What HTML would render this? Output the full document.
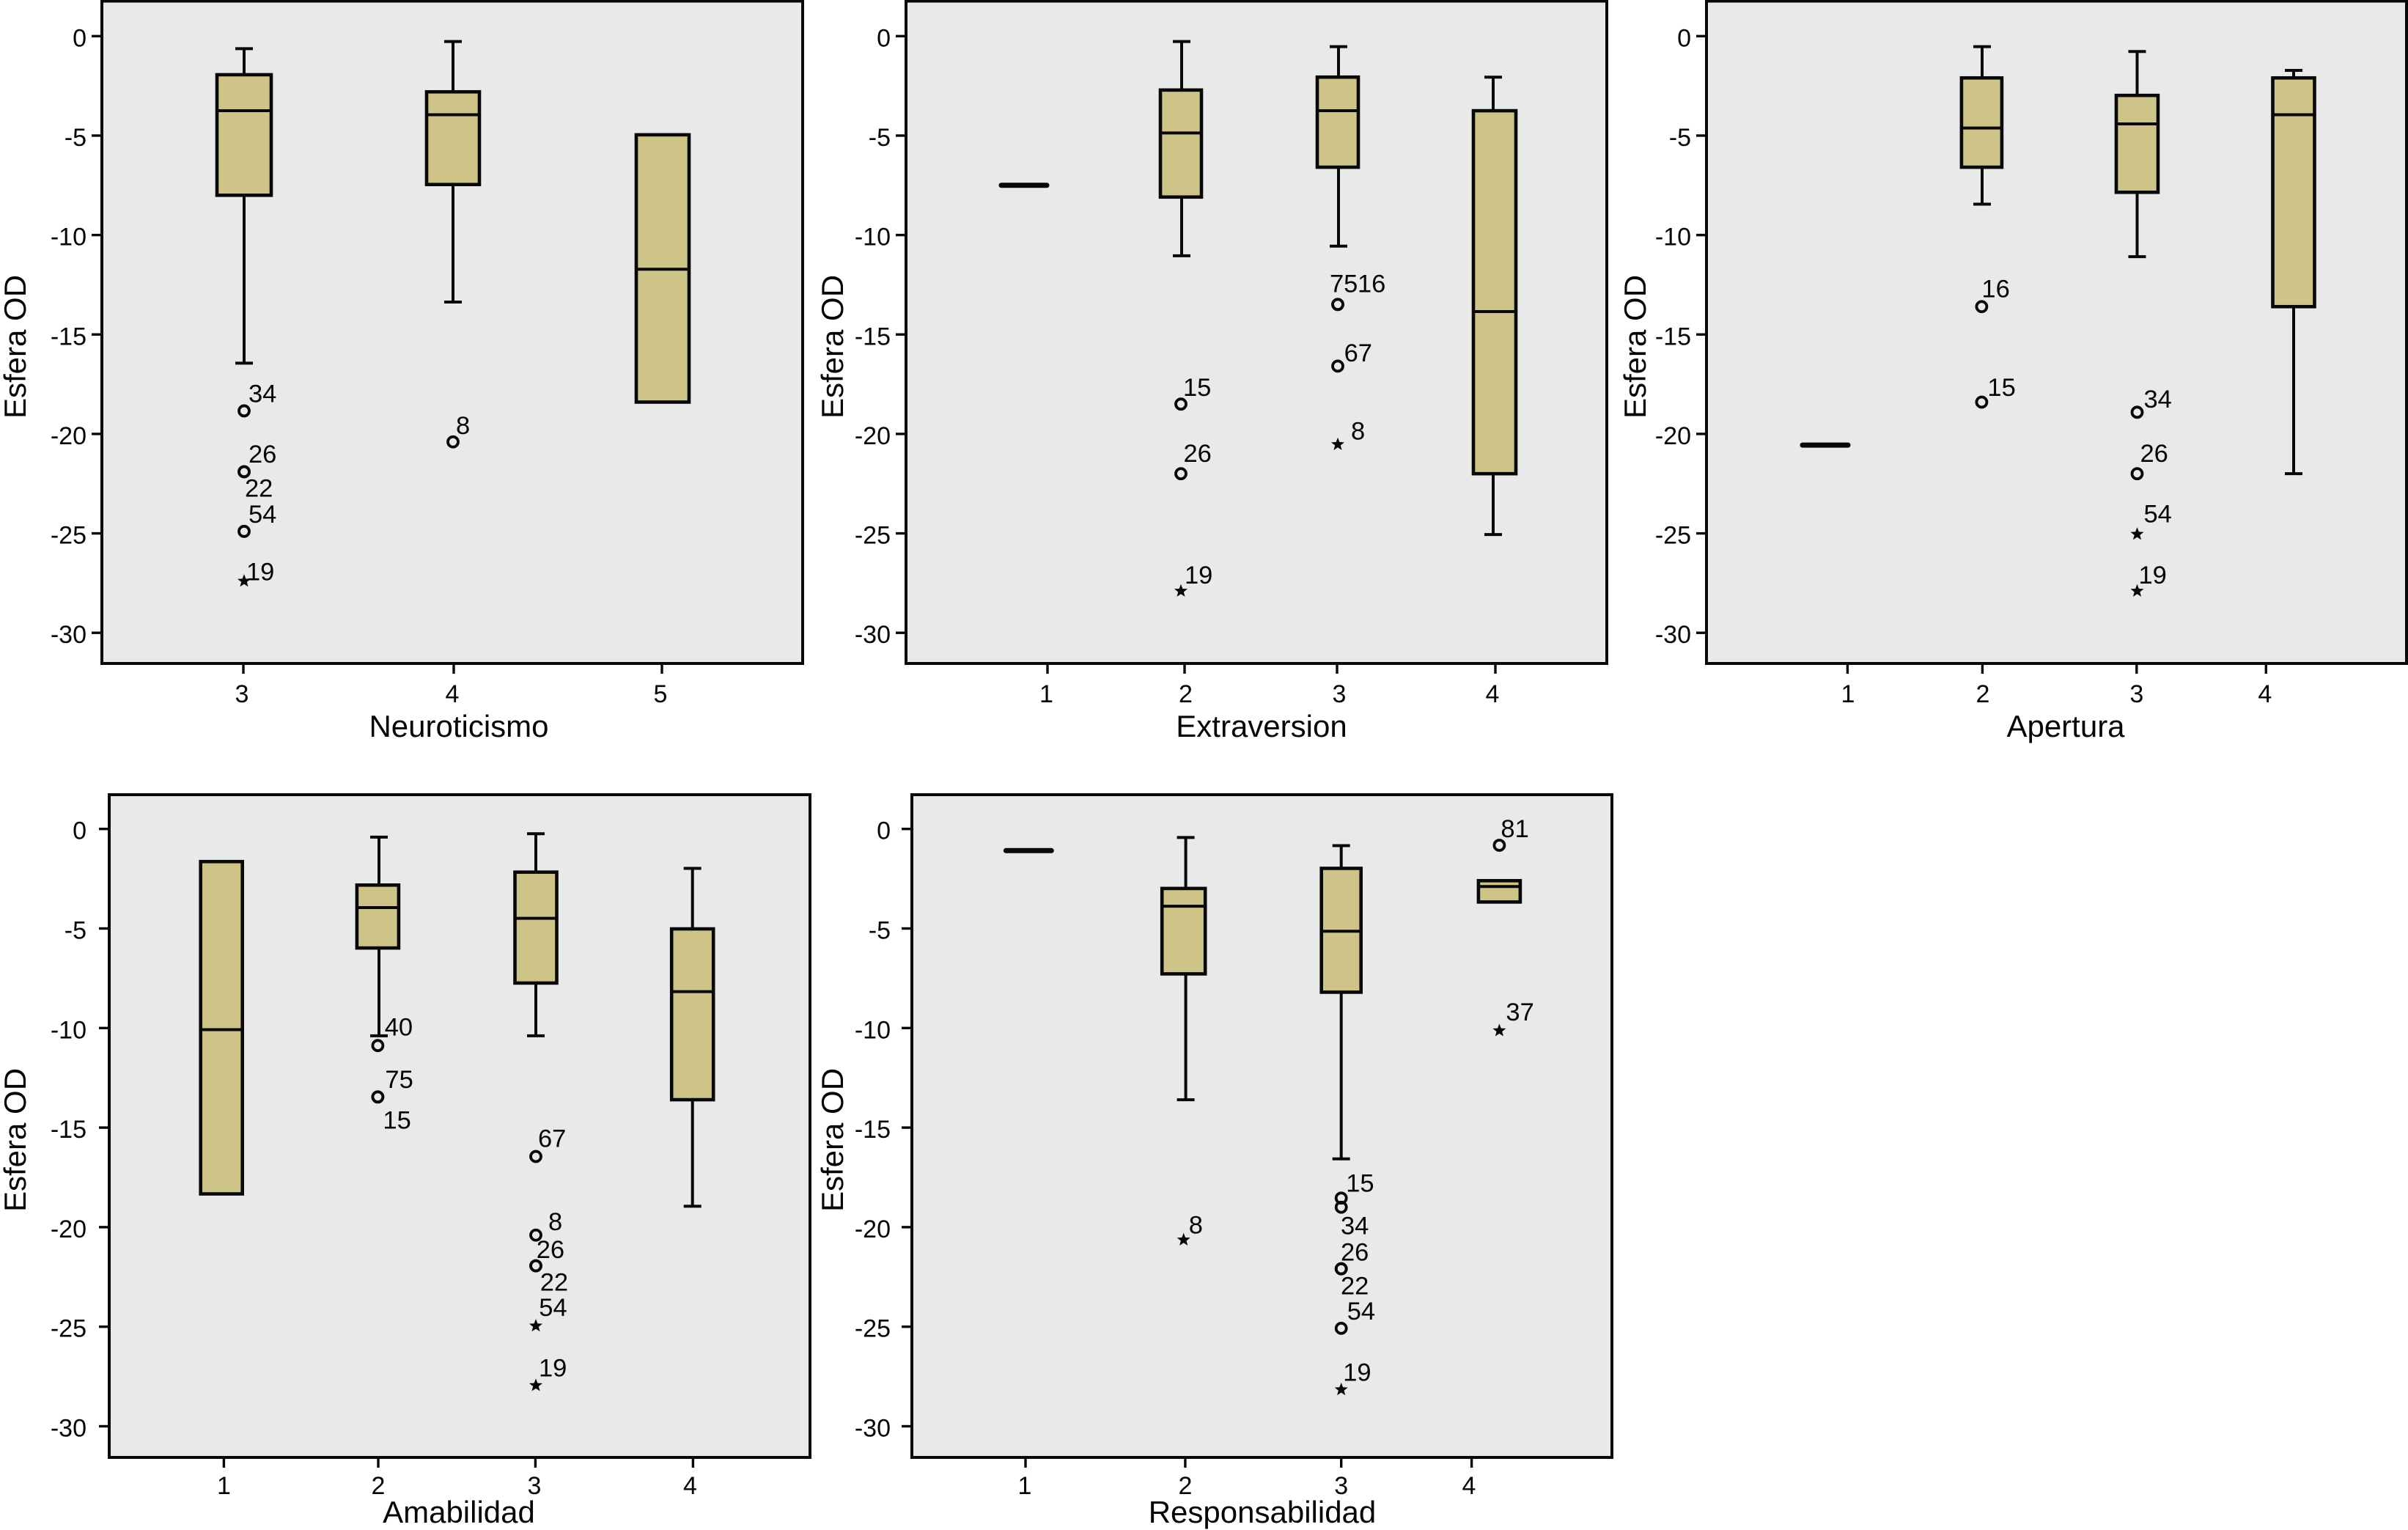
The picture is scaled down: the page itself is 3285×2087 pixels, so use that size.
<!DOCTYPE html>
<html lang="es">
<head>
<meta charset="utf-8">
<title>Esfera OD por rasgo de personalidad</title>
<style>
html,body{margin:0;padding:0;background:#fff;width:3285px;height:2087px;overflow:hidden}
svg{display:block}
text{font-family:"Liberation Sans",Arial,sans-serif;fill:#050505}
</style>
</head>
<body>
<svg id="chart" xmlns="http://www.w3.org/2000/svg" width="3285" height="2087" viewBox="0 0 3285 2087"></svg>
<script>
/* ---------- shared axis data ---------- */
const yTickValues = [0, -5, -10, -15, -20, -25, -30];
const yAxisTitle = 'Esfera OD';

/* ---------- Neuroticismo ---------- */
const neuroticismoCategories = ['3', '4', '5'];
const neuroticismoWhiskerHigh = [-0.63, -0.27, null];
const neuroticismoQ3 = [-1.94, -2.8, -4.96];
const neuroticismoMedian = [-3.75, -3.95, -11.72];
const neuroticismoQ1 = [-8.0, -7.46, -18.4];
const neuroticismoWhiskerLow = [-16.44, -13.37, null];
const neuroticismoOutlierCategory = [0, 0, 0, 0, 0, 1];
const neuroticismoOutlierValue = [-18.84, -21.9, -21.9, -24.9, -27.4, -20.4];
const neuroticismoOutlierLabel = ['34', '26', '22', '54', '19', '8'];
const neuroticismoOutlierKind = ['o', 'o', 'o', 'o', '*', 'o'];

/* ---------- Extraversion ---------- */
const extraversionCategories = ['1', '2', '3', '4'];
const extraversionWhiskerHigh = [null, -0.27, -0.53, -2.06];
const extraversionQ3 = [-7.5, -2.71, -2.06, -3.75];
const extraversionMedian = [-7.5, -4.87, -3.75, -13.85];
const extraversionQ1 = [-7.5, -8.09, -6.59, -22.0];
const extraversionWhiskerLow = [null, -11.04, -10.56, -25.06];
const extraversionOutlierCategory = [2, 2, 2, 2, 1, 1, 1];
const extraversionOutlierValue = [-13.49, -13.49, -16.59, -20.53, -18.5, -22.0, -27.9];
const extraversionOutlierLabel = ['75', '16', '67', '8', '15', '26', '19'];
const extraversionOutlierKind = ['o', 'o', 'o', '*', 'o', 'o', '*'];

/* ---------- Apertura ---------- */
const aperturaCategories = ['1', '2', '3', '4'];
const aperturaWhiskerHigh = [null, -0.53, -0.77, -1.72];
const aperturaQ3 = [-20.56, -2.1, -2.98, -2.1];
const aperturaMedian = [-20.56, -4.62, -4.41, -3.95];
const aperturaQ1 = [-20.56, -6.59, -7.85, -13.6];
const aperturaWhiskerLow = [null, -8.45, -11.09, -22.0];
const aperturaOutlierCategory = [1, 1, 2, 2, 2, 2];
const aperturaOutlierValue = [-13.6, -18.4, -18.91, -22.0, -25.04, -27.9];
const aperturaOutlierLabel = ['16', '15', '34', '26', '54', '19'];
const aperturaOutlierKind = ['o', 'o', 'o', 'o', '*', '*'];

/* ---------- Amabilidad ---------- */
const amabilidadCategories = ['1', '2', '3', '4'];
const amabilidadWhiskerHigh = [null, -0.41, -0.24, -1.98];
const amabilidadQ3 = [-1.64, -2.82, -2.17, -5.02];
const amabilidadMedian = [-10.08, -3.95, -4.49, -8.17];
const amabilidadQ1 = [-18.33, -5.98, -7.74, -13.6];
const amabilidadWhiskerLow = [null, -10.39, -10.39, -18.95];
const amabilidadOutlierCategory = [1, 1, 1, 2, 2, 2, 2, 2, 2];
const amabilidadOutlierValue = [-10.88, -13.46, -13.46, -16.45, -20.4, -21.94, -21.94, -24.96, -27.95];
const amabilidadOutlierLabel = ['40', '75', '15', '67', '8', '26', '22', '54', '19'];
const amabilidadOutlierKind = ['o', 'o', 'o', 'o', 'o', 'o', 'o', '*', '*'];

/* ---------- Responsabilidad ---------- */
const responsabilidadCategories = ['1', '2', '3', '4'];
const responsabilidadWhiskerHigh = [null, -0.43, -0.84, null];
const responsabilidadQ3 = [-1.09, -2.99, -1.98, -2.6];
const responsabilidadMedian = [-1.09, -3.88, -5.14, -2.89];
const responsabilidadQ1 = [-1.09, -7.28, -8.2, -3.67];
const responsabilidadWhiskerLow = [null, -13.6, -16.57, null];
const responsabilidadOutlierCategory = [3, 3, 1, 2, 2, 2, 2, 2, 2];
const responsabilidadOutlierValue = [-0.82, -10.13, -20.64, -18.54, -19.0, -22.09, -22.09, -25.08, -28.16];
const responsabilidadOutlierLabel = ['81', '37', '8', '15', '34', '26', '22', '54', '19'];
const responsabilidadOutlierKind = ['o', '*', '*', 'o', 'o', 'o', 'o', 'o', '*'];

/* ---------- layout (pixels, separate from the data) ---------- */
const rowTop = {zero: 49.3, scale: 27.13, top: 1.5, bottom: 905, tickLabelBase: 958, titleBase: 1005};
const rowBottom = {zero: 1130.7, scale: 27.16, top: 1084, bottom: 1988, tickLabelBase: 2038, titleBase: 2077};

const panels = [
  {key: 'neuroticismo', title: 'Neuroticismo', row: rowTop, left: 139, right: 1095,
   yTitleX: 21, yTitleY: 473, titleX: 626, yLabelX: 118,
   tickPos: [193, 480, 764], tickShift: [-2, -2, -2], boxPos: [194, 479, 765], whiskerPos: [194, 479, 765], boxW: [74, 72, 72],
   labelDx: [6, 6, 1, 6, 3, 4], labelDy: [-12, -12.5, 34, -12, -1, -11],
   cats: neuroticismoCategories, hi: neuroticismoWhiskerHigh, q3: neuroticismoQ3, med: neuroticismoMedian, q1: neuroticismoQ1, lo: neuroticismoWhiskerLow,
   oc: neuroticismoOutlierCategory, ov: neuroticismoOutlierValue, ol: neuroticismoOutlierLabel, ok: neuroticismoOutlierKind},
  {key: 'extraversion', title: 'Extraversion', row: rowTop, left: 1236, right: 2192,
   yTitleX: 1136, yTitleY: 473, titleX: 1721, yLabelX: 1215,
   tickPos: [193, 380, 588, 804], tickShift: [-1.5, 1.5, 3, -4], boxPos: [161, 375, 589, 803], whiskerPos: [161, 376, 590, 801], boxW: [68, 56, 56, 58],
   labelDx: [-11, 27, 8.6, 18, 3, 3.5, 5], labelDy: [-17, -17, -6.6, -7, -11, -16, -10],
   cats: extraversionCategories, hi: extraversionWhiskerHigh, q3: extraversionQ3, med: extraversionMedian, q1: extraversionQ1, lo: extraversionWhiskerLow,
   oc: extraversionOutlierCategory, ov: extraversionOutlierValue, ol: extraversionOutlierLabel, ok: extraversionOutlierKind},
  {key: 'apertura', title: 'Apertura', row: rowTop, left: 2328, right: 3283,
   yTitleX: 2231, yTitleY: 473, titleX: 2818, yLabelX: 2307,
   tickPos: [192.4, 376.4, 586.8, 763.3], tickShift: [0.5, 0.5, 0, -1.5], boxPos: [162, 375.4, 587.5, 801], whiskerPos: [162, 376, 587.5, 801], boxW: [68, 55, 57, 57],
   labelDx: [0, 8, 9, 4, 9, 2], labelDy: [-13, -8.5, -6.5, -16, -16, -10],
   cats: aperturaCategories, hi: aperturaWhiskerHigh, q3: aperturaQ3, med: aperturaMedian, q1: aperturaQ1, lo: aperturaWhiskerLow,
   oc: aperturaOutlierCategory, ov: aperturaOutlierValue, ol: aperturaOutlierLabel, ok: aperturaOutlierKind},
  {key: 'amabilidad', title: 'Amabilidad', row: rowBottom, left: 149, right: 1105,
   yTitleX: 21, yTitleY: 1555, titleX: 626, yLabelX: 118,
   tickPos: [156.4, 367, 581.4, 796.4], tickShift: [0, 0, -1.5, -4], boxPos: [153.2, 366.4, 582, 795.7], whiskerPos: [153.2, 368, 582, 795.7], boxW: [57, 57, 57, 57],
   labelDx: [9.3, 10, 7, 3, 17, 0.7, 5.7, 4.3, 4], labelDy: [-13.8, -12.5, 43, -13, -7, -10.5, 34, -13.8, -12.5],
   cats: amabilidadCategories, hi: amabilidadWhiskerHigh, q3: amabilidadQ3, med: amabilidadMedian, q1: amabilidadQ1, lo: amabilidadWhiskerLow,
   oc: amabilidadOutlierCategory, ov: amabilidadOutlierValue, ol: amabilidadOutlierLabel, ok: amabilidadOutlierKind},
  {key: 'responsabilidad', title: 'Responsabilidad', row: rowBottom, left: 1244, right: 2199,
   yTitleX: 1136, yTitleY: 1555, titleX: 1722, yLabelX: 1215,
   tickPos: [155, 372.9, 585.7, 763.6], tickShift: [-1, 0, 0, -3.6], boxPos: [159.3, 370.7, 585.7, 801.4], whiskerPos: [159.3, 373.6, 585.7, 801.4], boxW: [68, 59, 54, 57],
   labelDx: [2, 9, 7, 6.5, -0.7, -0.7, -0.7, 8, 2.5], labelDy: [-11, -13.8, -9, -8.5, 37, -11, 35, -12, -12],
   cats: responsabilidadCategories, hi: responsabilidadWhiskerHigh, q3: responsabilidadQ3, med: responsabilidadMedian, q1: responsabilidadQ1, lo: responsabilidadWhiskerLow,
   oc: responsabilidadOutlierCategory, ov: responsabilidadOutlierValue, ol: responsabilidadOutlierLabel, ok: responsabilidadOutlierKind}
];

const SVGNS = 'http://www.w3.org/2000/svg';
const INK = '#080808';
const PANEL_BG = '#e9e9e9';
const BOX_FILL = '#cec487';
const root = document.getElementById('chart');

function make(parent, tag, geometry) {
  const node = document.createElementNS(SVGNS, tag);
  for (const k in geometry) node.setAttribute(k, geometry[k]);
  parent.appendChild(node);
  return node;
}
function starPoints(cx, cy, outer, inner) {
  const pts = [];
  for (let i = 0; i < 10; i++) {
    const r = i % 2 ? inner : outer;
    const a = -Math.PI / 2 + i * Math.PI / 5;
    pts.push((cx + r * Math.cos(a)).toFixed(2) + ',' + (cy + r * Math.sin(a)).toFixed(2));
  }
  return pts.join(' ');
}

panels.forEach(function (p) {
  const yScale = function (v) { return p.row.zero - v * p.row.scale; };
  const xScale = function (px) { return p.left + px; };

  const group = make(root, 'g', {});
  
  

  const plot = make(group, 'rect', {x: p.left, y: p.row.top, width: p.right - p.left, height: p.row.bottom - p.row.top, fill: PANEL_BG, stroke: INK, 'stroke-width': 4});
  
  

  yTickValues.forEach(function (v) {
    const tick = make(group, 'line', {x1: p.left - 14, x2: p.left, y1: yScale(v), y2: yScale(v), stroke: INK, 'stroke-width': 3.4});
    
    
    const label = make(group, 'text', {x: p.yLabelX, y: yScale(v) + 14, 'text-anchor': 'end', 'font-size': 34});
    
    
    label.textContent = String(v);
  });

  p.cats.forEach(function (cat, i) {
    const tx = xScale(p.tickPos[i]);
    const tick = make(group, 'line', {x1: tx, x2: tx, y1: p.row.bottom, y2: p.row.bottom + 14, stroke: INK, 'stroke-width': 3.4});
    
    
    const label = make(group, 'text', {x: tx + p.tickShift[i], y: p.row.tickLabelBase, 'text-anchor': 'middle', 'font-size': 34});
    
    
    label.textContent = cat;

    const bx = xScale(p.boxPos[i]);
    const wx = xScale(p.whiskerPos[i]);
    const bw = p.boxW[i];

    if (p.hi[i] !== null) {
      const up = make(group, 'line', {x1: wx, x2: wx, y1: yScale(p.hi[i]), y2: yScale(p.q3[i]), stroke: INK, 'stroke-width': 4});
      
      
      const upCap = make(group, 'line', {x1: wx - 12, x2: wx + 12, y1: yScale(p.hi[i]), y2: yScale(p.hi[i]), stroke: INK, 'stroke-width': 4});
      
      
    }
    if (p.lo[i] !== null) {
      const down = make(group, 'line', {x1: wx, x2: wx, y1: yScale(p.q1[i]), y2: yScale(p.lo[i]), stroke: INK, 'stroke-width': 4});
      
      
      const downCap = make(group, 'line', {x1: wx - 12, x2: wx + 12, y1: yScale(p.lo[i]), y2: yScale(p.lo[i]), stroke: INK, 'stroke-width': 4});
      
      
    }

    if (p.q3[i] === p.q1[i]) {
      const flat = make(group, 'line', {x1: bx - bw / 2 + 3, x2: bx + bw / 2 - 3, y1: yScale(p.med[i]), y2: yScale(p.med[i]), stroke: INK, 'stroke-width': 7, 'stroke-linecap': 'round'});
      
      
    } else {
      const box = make(group, 'rect', {x: bx - bw / 2, y: yScale(p.q3[i]), width: bw, height: yScale(p.q1[i]) - yScale(p.q3[i]), fill: BOX_FILL, stroke: INK, 'stroke-width': 4.6});
      
      
      const med = make(group, 'line', {x1: bx - bw / 2, x2: bx + bw / 2, y1: yScale(p.med[i]), y2: yScale(p.med[i]), stroke: INK, 'stroke-width': 4});
      
      
    }
  });

  p.ov.forEach(function (v, j) {
    const mx = xScale(p.boxPos[p.oc[j]]);
    const my = yScale(v);
    let mark;
    if (p.ok[j] === 'o') {
      mark = make(group, 'circle', {cx: mx, cy: my, r: 7, fill: 'none', stroke: INK, 'stroke-width': 3.8});
    } else {
      mark = make(group, 'polygon', {points: starPoints(mx, my, 9.5, 4), fill: INK});
    }
    
    
    const label = make(group, 'text', {x: mx + p.labelDx[j], y: my + p.labelDy[j], 'font-size': 34.5});
    
    
    label.textContent = p.ol[j];
  });

  const xTitle = make(group, 'text', {x: p.titleX, y: p.row.titleBase, 'text-anchor': 'middle', 'font-size': 42});
  
  
  xTitle.textContent = p.title;

  const yTitle = make(group, 'text', {x: 0, y: 0, 'text-anchor': 'middle', 'font-size': 42, transform: 'translate(' + (p.yTitleX + 14) + ',' + p.yTitleY + ') rotate(-90)'});
  
  
  yTitle.textContent = yAxisTitle;
});
</script>
</body>
</html>
